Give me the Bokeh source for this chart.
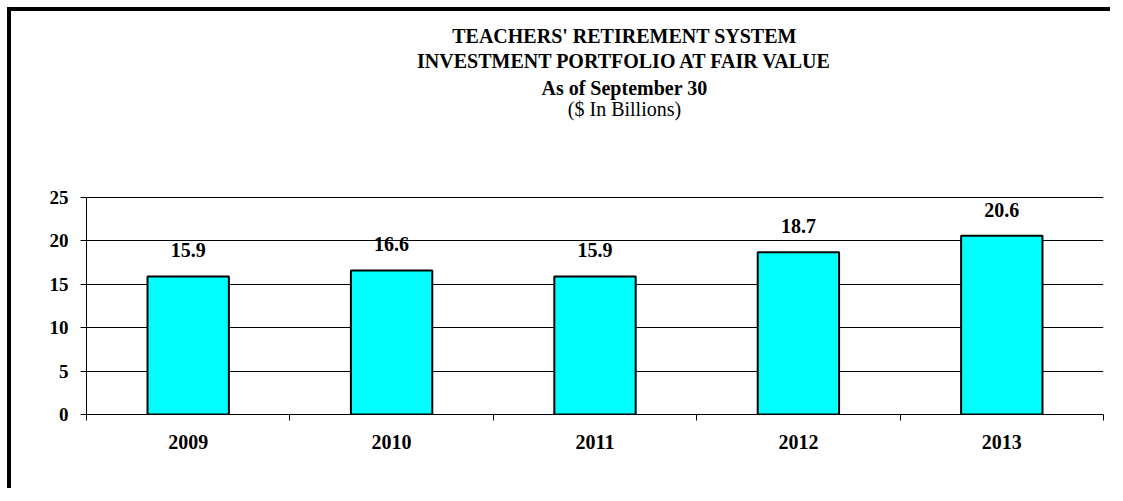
from bokeh.plotting import figure
from bokeh.models import Range1d, FixedTicker, Label, LabelSet, ColumnDataSource
from bokeh.embed import file_html
from bokeh.resources import INLINE

# ---- data ----
years = ["2009", "2010", "2011", "2012", "2013"]
values = [15.9, 16.6, 15.9, 18.7, 20.6]
y_ticks = [0, 5, 10, 15, 20, 25]
title_lines = ["TEACHERS' RETIREMENT SYSTEM",
               "INVESTMENT PORTFOLIO AT FAIR VALUE",
               "As of September 30"]
subtitle = "($ In Billions)"

FONT = "Liberation Serif"

n = len(years)
xs = [i + 0.5 for i in range(n)]
src = ColumnDataSource(dict(x=xs, top=values, label=[f"{v:.1f}" for v in values]))

# frame extends above the value axis so that the title block sits inside it
Y_MAX = 25
Y_TOP = Y_MAX + 186 / (217 / Y_MAX)

p = figure(width=1103, height=481, title=None,
           x_range=Range1d(0, n), y_range=Range1d(0, Y_TOP),
           output_backend="svg", toolbar_location=None,
           min_border_left=75, min_border_right=11,
           min_border_top=0, min_border_bottom=78)
p.styles = {"border-top": "4px solid black", "border-left": "4px solid black",
            "margin-top": "7px", "margin-left": "7px"}
p.outline_line_color = None
p.background_fill_color = "white"
p.border_fill_color = "white"

p.vbar(x="x", top="top", bottom=0, width=0.4, source=src,
       fill_color="#00FFFF", line_color="black", line_width=2)

labels = LabelSet(x="x", y="top", text="label", source=src,
                  y_offset=26, text_align="center", text_baseline="middle",
                  text_font=FONT, text_font_style="bold", text_font_size="20px",
                  text_color="black")
p.add_layout(labels)

# grid
p.xgrid.grid_line_color = None
p.ygrid.grid_line_color = "black"
p.ygrid.grid_line_width = 1

# y axis
p.yaxis.ticker = FixedTicker(ticks=y_ticks)
p.yaxis.bounds = (0, Y_MAX)
p.yaxis.axis_line_color = "black"
p.yaxis.major_tick_line_color = "black"
p.yaxis.major_tick_out = 6
p.yaxis.major_tick_in = 0
p.yaxis.minor_tick_line_color = None
p.yaxis.major_label_standoff = 12
p.yaxis.major_label_text_font = FONT
p.yaxis.major_label_text_font_style = "bold"
p.yaxis.major_label_text_font_size = "19px"
p.yaxis.major_label_text_color = "black"

# x axis: labels at category centres, ticks at category boundaries
p.xaxis.ticker = FixedTicker(ticks=xs, minor_ticks=list(range(n + 1)))
p.xaxis.major_label_overrides = {x: y for x, y in zip(xs, years)}
p.xaxis.axis_line_color = "black"
p.xaxis.major_tick_line_color = None
p.xaxis.major_tick_out = 0
p.xaxis.major_tick_in = 0
p.xaxis.minor_tick_line_color = "black"
p.xaxis.minor_tick_out = 6
p.xaxis.minor_tick_in = 0
p.xaxis.major_label_standoff = 14
p.xaxis.major_label_text_font = FONT
p.xaxis.major_label_text_font_style = "bold"
p.xaxis.major_label_text_font_size = "20px"
p.xaxis.major_label_text_color = "black"

# titles (screen units relative to the plot frame's bottom-left)
title_y = [379, 354, 327]
for txt, ty in zip(title_lines, title_y):
    p.add_layout(Label(x=538, y=ty, x_units="screen", y_units="screen", text=txt,
                       text_align="center", text_baseline="middle",
                       text_font=FONT, text_font_style="bold",
                       text_font_size="20px", text_color="black"))
p.add_layout(Label(x=538, y=306, x_units="screen", y_units="screen", text=subtitle,
                   text_align="center", text_baseline="middle",
                   text_font=FONT, text_font_style="normal",
                   text_font_size="20px", text_color="black"))

open("out.html", "w").write(file_html(p, INLINE))
